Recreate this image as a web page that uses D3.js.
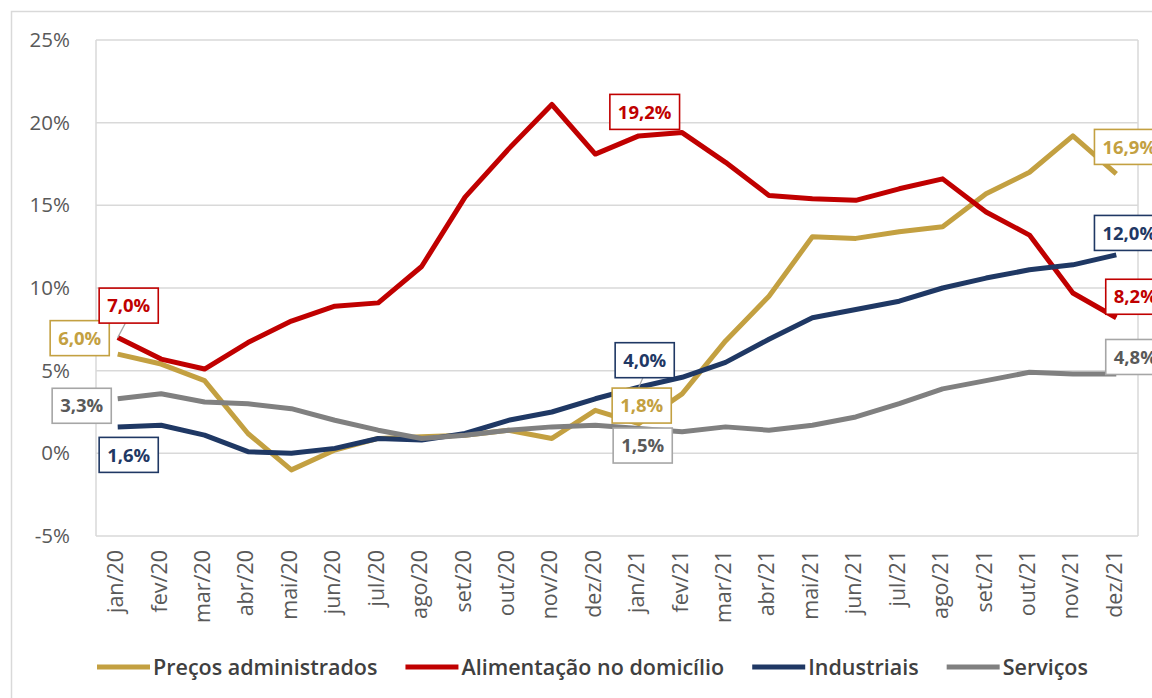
<!DOCTYPE html>
<html>
<head>
<meta charset="utf-8">
<script src="https://cdn.jsdelivr.net/npm/d3@7"></script>
<style>
  body { margin: 0; background: #fff; }
  svg { display: block; font-family: "Open Sans", "Noto Sans", sans-serif; }
</style>
</head>
<body>
<svg id="chart" width="1152" height="698"></svg>
<script>
// ---- data ----
var months = ["jan/20", "fev/20", "mar/20", "abr/20", "mai/20", "jun/20", "jul/20", "ago/20",
    "set/20", "out/20", "nov/20", "dez/20", "jan/21", "fev/21", "mar/21", "abr/21",
    "mai/21", "jun/21", "jul/21", "ago/21", "set/21", "out/21", "nov/21", "dez/21"];

var precosAdministrados = [6.0, 5.4, 4.4, 1.2, -1.0, 0.2, 0.9, 1.0, 1.1, 1.4, 0.9, 2.6,
    1.8, 3.6, 6.8, 9.5, 13.1, 13.0, 13.4, 13.7, 15.7, 17.0, 19.2, 16.9];
var alimentacaoDomicilio = [7.0, 5.7, 5.1, 6.7, 8.0, 8.9, 9.1, 11.3, 15.5, 18.4, 21.1, 18.1,
    19.2, 19.4, 17.6, 15.6, 15.4, 15.3, 16.0, 16.6, 14.6, 13.2, 9.7, 8.2];
var industriais = [1.6, 1.7, 1.1, 0.1, 0.0, 0.3, 0.9, 0.8, 1.2, 2.0, 2.5, 3.3,
    4.0, 4.6, 5.5, 6.9, 8.2, 8.7, 9.2, 10.0, 10.6, 11.1, 11.4, 12.0];
var servicos = [3.3, 3.6, 3.1, 3.0, 2.7, 2.0, 1.4, 0.9, 1.1, 1.4, 1.6, 1.7,
    1.5, 1.3, 1.6, 1.4, 1.7, 2.2, 3.0, 3.9, 4.4, 4.9, 4.8, 4.8];

var yTicks = [-5, 0, 5, 10, 15, 20, 25];

var series = [
    { name: "Preços administrados", values: precosAdministrados, color: "#C3A041", text: "#C3A041" },
    { name: "Alimentação no domicílio", values: alimentacaoDomicilio, color: "#C00000", text: "#C00000" },
    { name: "Industriais", values: industriais, color: "#1F3864", text: "#1F3864" },
    { name: "Serviços", values: servicos, color: "#808080", text: "#595959", border: "#A6A6A6" }
];

// data labels: series index, month index, box offset from the point, optional leader line
var labels = [
    { s: 0, i: 0, dx: -38, dy: -16 },
    { s: 1, i: 0, dx: 11, dy: -32, leader: true },
    { s: 3, i: 0, dx: -36, dy: 7 },
    { s: 2, i: 0, dx: 11, dy: 28 },
    { s: 1, i: 12, dx: 6, dy: -24 },
    { s: 2, i: 12, dx: 6, dy: -27, leader: true },
    { s: 0, i: 12, dx: 3, dy: -18 },
    { s: 3, i: 12, dx: 4, dy: 17 },
    { s: 0, i: 23, dx: 13, dy: -27 },
    { s: 2, i: 23, dx: 13, dy: -22 },
    { s: 1, i: 23, dx: 19, dy: -21 },
    { s: 3, i: 23, dx: 19, dy: -17 }
];

var svg = d3.select("#chart");

// outer chart frame
svg.append("rect")
    .attr("x", 11.5).attr("y", 11.5)
    .attr("width", 1200).attr("height", 720)
    .attr("fill", "#fff")
    .attr("stroke", "#D9D9D9")
    .attr("stroke-width", 1.5);

var plot = { left: 96, right: 1138, top: 40, bottom: 536 };

var x = d3.scaleBand().domain(months).range([plot.left, plot.right]).padding(0);
var xc = function(m) { return x(m) + x.bandwidth() / 2; };
var y = d3.scaleLinear().domain([-5, 25]).range([plot.bottom, plot.top]);

// gridlines
svg.append("g")
    .selectAll("line")
    .data(yTicks)
    .enter()
    .append("line")
    .attr("x1", plot.left).attr("x2", plot.right)
    .attr("y1", function(d) { return y(d); })
    .attr("y2", function(d) { return y(d); })
    .attr("stroke", "#D9D9D9")
    .attr("stroke-width", 1.5);

// plot area sides
svg.append("g").selectAll("line")
    .data([plot.left, plot.right])
    .enter()
    .append("line")
    .attr("x1", function(d) { return d; }).attr("x2", function(d) { return d; })
    .attr("y1", plot.top).attr("y2", plot.bottom)
    .attr("stroke", "#D9D9D9")
    .attr("stroke-width", 1.5);

// y axis labels
var yAxis = svg.append("g")
    .attr("transform", "translate(" + (plot.left - 2) + ",0)")
    .call(d3.axisLeft(y).tickValues(yTicks).tickSize(0).tickPadding(24)
        .tickFormat(function(d) { return d + "%"; }));
yAxis.select(".domain").remove();
yAxis.selectAll("text")
    .attr("fill", "#595959")
    .style("font-size", "20.5px")
    .style("font-family", "'Open Sans', sans-serif");

// x axis labels (rotated)
var xAxis = svg.append("g")
    .attr("transform", "translate(0," + (plot.bottom + 12) + ")")
    .call(d3.axisBottom(x).tickSize(0).tickPadding(0));
xAxis.select(".domain").remove();
xAxis.selectAll("text")
    .attr("transform", "rotate(-90)")
    .attr("text-anchor", "end")
    .attr("x", -2)
    .attr("y", -2)
    .attr("dy", "0.35em")
    .attr("fill", "#595959")
    .style("font-size", "21.5px")
    .style("font-family", "'Open Sans', sans-serif");

// lines
var line = d3.line()
    .x(function(d, i) { return xc(months[i]); })
    .y(function(d) { return y(d); });

svg.append("g")
    .selectAll("path")
    .data(series)
    .enter()
    .append("path")
    .attr("d", function(d) { return line(d.values); })
    .attr("fill", "none")
    .attr("stroke", function(d) { return d.color; })
    .attr("stroke-width", 5)
    .attr("stroke-linejoin", "round");

// data labels
var fmt = function(v) { return v.toFixed(1).replace(".", ",") + "%"; };
var labelG = svg.append("g");
labels.forEach(function(l) {
    var s = series[l.s];
    var px = xc(months[l.i]), py = y(s.values[l.i]);
    var cx = px + l.dx, cy = py + l.dy;
    var g = labelG.append("g");
    var rect = g.append("rect");
    var t = g.append("text")
        .attr("x", cx).attr("y", cy)
        .attr("dy", "0.36em")
        .attr("text-anchor", "middle")
        .attr("fill", s.text)
        .style("font-size", "18.5px")
        .style("font-weight", "bold")
        .text(fmt(s.values[l.i]));
    var w = t.node().getComputedTextLength() + 16, h = 35;
    if (l.leader) {
        g.insert("line", "rect")
            .attr("x1", px).attr("y1", py)
            .attr("x2", cx + (px - cx) * 0.3).attr("y2", cy + (l.dy < 0 ? h / 2 : -h / 2))
            .attr("stroke", "#A6A6A6").attr("stroke-width", 1.2);
    }
    rect.attr("x", cx - w / 2).attr("y", cy - h / 2)
        .attr("width", w).attr("height", h)
        .attr("fill", "#fff")
        .attr("stroke", s.border || s.color)
        .attr("stroke-width", 1.6);
});

// legend
var legend = svg.append("g").attr("transform", "translate(97,667)");
var lx = 0;
series.forEach(function(s) {
    legend.append("line")
        .attr("x1", lx).attr("x2", lx + 53)
        .attr("y1", 0).attr("y2", 0)
        .attr("stroke", s.color)
        .attr("stroke-width", 5);
    var t = legend.append("text")
        .attr("x", lx + 56).attr("y", 0)
        .attr("dy", "0.35em")
        .attr("fill", "#404040")
        .style("font-size", "21.5px")
        .style("font-weight", 600)
        .text(s.name);
    lx += 56 + t.node().getComputedTextLength() + 28;
});
</script>
</body>
</html>
